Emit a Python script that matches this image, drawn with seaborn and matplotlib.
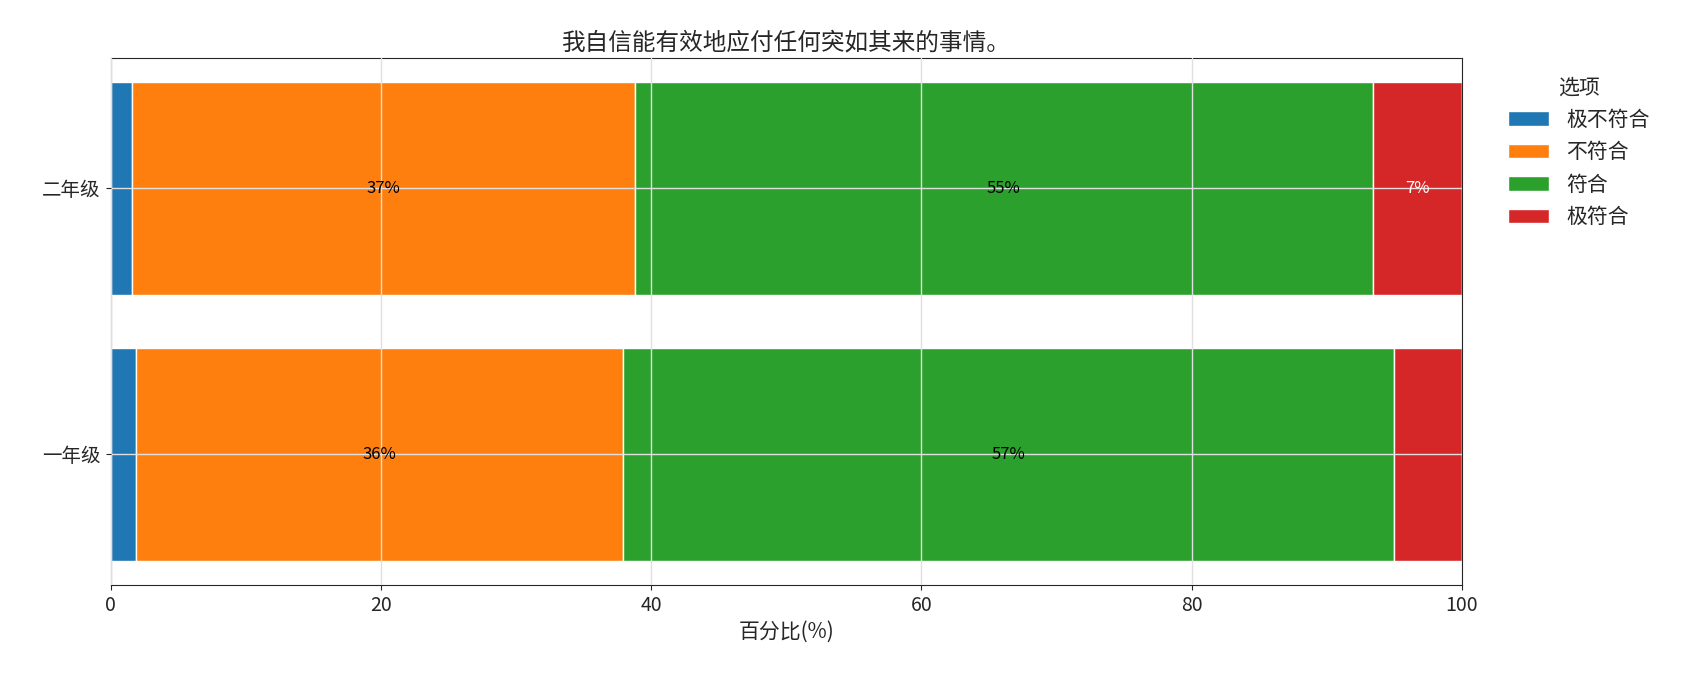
import matplotlib
matplotlib.use("Agg")
import matplotlib.pyplot as plt
import seaborn as sns
import pandas as pd
import numpy as np

sns.set_style("ticks")
plt.rcParams['font.family'] = ['Noto Sans CJK SC', 'DejaVu Sans']

grades = ["一年级", "二年级"]
options = ["极不符合", "不符合", "符合", "极符合"]
pct = {
    "极不符合": [1.9, 1.6],
    "不符合": [36.0, 37.2],
    "符合": [57.1, 54.6],
    "极符合": [5.0, 6.6],
}
colors = sns.color_palette("tab10", 4)

df = pd.DataFrame(pct, index=grades)

fig, ax = plt.subplots(figsize=(17, 6.8), dpi=100)
left = np.zeros(len(grades))
for opt, c in zip(options, colors):
    vals = df[opt].values
    bars = ax.barh(grades, vals, left=left, height=0.8, color=c, label=opt, zorder=1)
    for i, (v, l) in enumerate(zip(vals, left)):
        if v >= 6:
            tc = "white" if opt == "极符合" else "black"
            ax.text(l + v / 2, i, f"{v:.0f}%", ha="center", va="center",
                    fontsize=12, color=tc, zorder=3)
    left += vals

ax.set_xlim(0, 100)
ax.grid(True, color="#e0e0e0", linewidth=1, zorder=2)
ax.set_axisbelow(False)
ax.set_xlabel("百分比(%)", fontsize=15)
ax.set_title("我自信能有效地应付任何突如其来的事情。", fontsize=17)
ax.tick_params(labelsize=14)
ax.legend(title="选项", bbox_to_anchor=(1.02, 1), loc="upper left",
          frameon=False, fontsize=15, title_fontsize=15)
fig.subplots_adjust(left=0.065, right=0.86, top=0.915, bottom=0.14)
fig.savefig("out.png")
